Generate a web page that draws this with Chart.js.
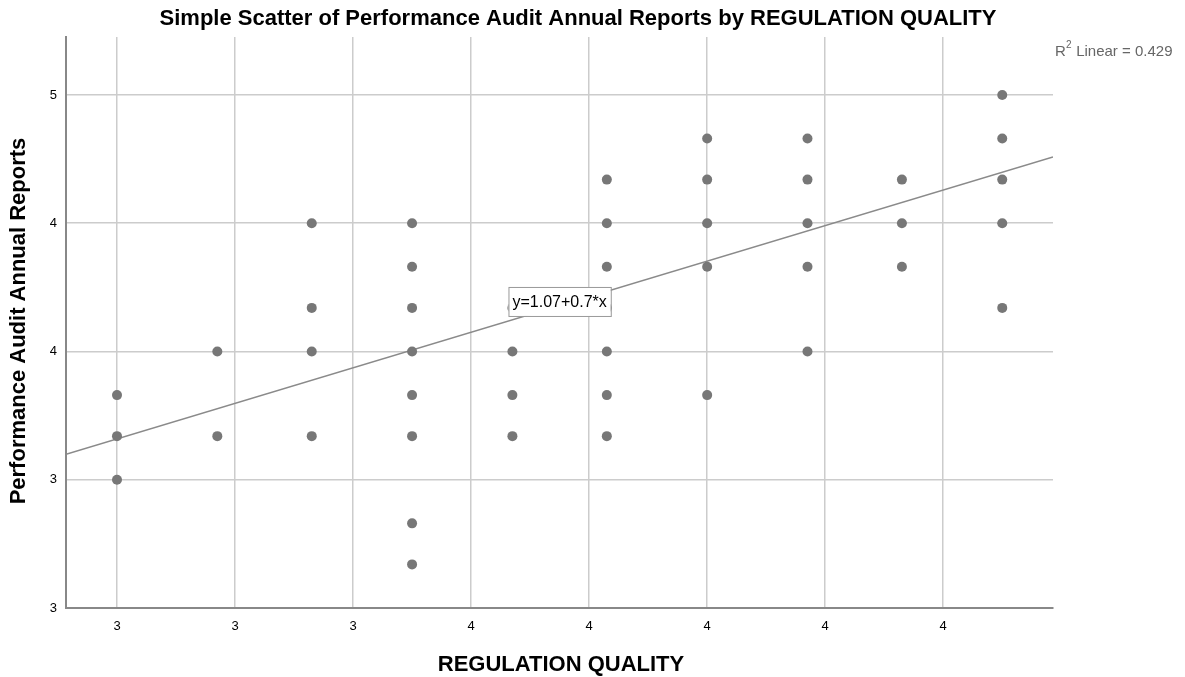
<!DOCTYPE html>
<html>
<head>
<meta charset="utf-8">
<script src="https://cdn.jsdelivr.net/npm/chart.js@4.4.1/dist/chart.umd.min.js"></script>
<style>
  body { margin: 0; background: #fff; }
  #wrap { width: 1185px; height: 677px; position: relative; }
</style>
</head>
<body>
<div id="wrap"><canvas id="scatter-chart" width="1185" height="677"></canvas></div>
<script>
// regulation quality levels (x) and the report scores seen in each column (y)
const xLevels = [3.00, 3.17, 3.33, 3.50, 3.67, 3.83, 4.00, 4.17, 4.33, 4.50];
const yByLevel = [
    [3.33, 3.17, 3.00],
    [3.50, 3.17],
    [4.00, 3.67, 3.50, 3.17],
    [4.00, 3.83, 3.67, 3.50, 3.33, 3.17, 2.83, 2.67],
    [3.67, 3.50, 3.33, 3.17],
    [4.17, 4.00, 3.83, 3.67, 3.50, 3.33, 3.17],
    [4.33, 4.17, 4.00, 3.83, 3.33],
    [4.33, 4.17, 4.00, 3.83, 3.50],
    [4.17, 4.00, 3.83],
    [4.50, 4.33, 4.17, 4.00, 3.67],
];

const xTicks = [3.0, 3.2, 3.4, 3.6, 3.8, 4.0, 4.2, 4.4];
const xTickLabels = ['3', '3', '3', '4', '4', '4', '4', '4'];
const yTicks = [2.5, 3.0, 3.5, 4.0, 4.5];
const yTickLabels = ['3', '3', '4', '4', '5'];

const fitIntercept = 1.08;
const fitSlope = 0.693;
const fitLabel = 'y=1.07+0.7*x';
const r2Label = '0.429';

const xRange = [2.9136, 4.586];
const yRange = [2.5, 4.726];

const points = [];
xLevels.forEach((x, i) => {
    yByLevel[i].forEach((y) => points.push({ x: x, y: y }));
});

const fitLine = xRange.map((x) => ({ x: x, y: fitIntercept + fitSlope * x }));

const FONT = '"Liberation Sans", Arial, sans-serif';

const textPlugin = {
    id: 'spssText',
    afterDraw(chart) {
        const ctx = chart.ctx;
        const xs = chart.scales.x;
        const ys = chart.scales.y;
        ctx.save();

        // title
        ctx.fillStyle = '#000';
        ctx.font = 'bold 22px ' + FONT;
        ctx.textAlign = 'center';
        ctx.textBaseline = 'middle';
        ctx.fillText('Simple Scatter of Performance Audit Annual Reports by REGULATION QUALITY', 578, 19);

        // axis titles
        ctx.font = 'bold 22px ' + FONT;
        ctx.fillText('REGULATION QUALITY', 561, 665);
        ctx.save();
        ctx.translate(19, 321);
        ctx.rotate(-Math.PI / 2);
        ctx.fillText('Performance Audit Annual Reports', 0, 0);
        ctx.restore();

        // R squared note
        ctx.fillStyle = '#666';
        ctx.textAlign = 'left';
        ctx.font = '15px ' + FONT;
        ctx.fillText('R', 1055, 52);
        ctx.font = '10px ' + FONT;
        ctx.fillText('2', 1066, 45);
        ctx.font = '15px ' + FONT;
        ctx.fillText(' Linear = ' + r2Label, 1072, 52);

        // equation box
        const cx = xs.getPixelForValue(3.75);
        const cy = ys.getPixelForValue(3.695);
        ctx.font = '16px ' + FONT;
        const w = ctx.measureText(fitLabel).width + 8;
        const h = 29;
        ctx.fillStyle = '#fff';
        ctx.fillRect(cx - w / 2, cy - h / 2, w, h);
        ctx.strokeStyle = '#999';
        ctx.lineWidth = 1;
        ctx.strokeRect(cx - w / 2 + 0.5, cy - h / 2 + 0.5, w, h);
        ctx.fillStyle = '#000';
        ctx.textAlign = 'center';
        ctx.fillText(fitLabel, cx, cy + 1);

        ctx.restore();
    },
};

const chartConfig = {
    type: 'scatter',
    data: {
        datasets: [
            {
                label: 'Performance Audit Annual Reports',
                data: points,
                backgroundColor: '#777777',
                borderWidth: 0,
                pointRadius: 5,
                order: 1,
            },
            {
                type: 'line',
                label: 'Fit',
                data: fitLine,
                borderColor: '#8a8a8a',
                borderWidth: 1.6,
                pointRadius: 0,
                fill: false,
                order: 2,
            },
        ],
    },
    options: {
        responsive: false,
        animation: false,
        layout: {
            padding: { top: 37, right: 132, bottom: 0, left: 0 },
        },
        plugins: {
            legend: { display: false },
            tooltip: { enabled: false },
        },
        scales: {
            x: {
                type: 'linear',
                min: xRange[0],
                max: xRange[1],
                afterBuildTicks: (scale) => {
                    scale.ticks = xTicks.map((v) => ({ value: v }));
                },
                afterFit: (scale) => { scale.height = 69; },
                ticks: {
                    callback: (value, index) => xTickLabels[index],
                    color: '#000',
                    padding: 11,
                    maxRotation: 0,
                    font: { family: FONT, size: 13 },
                },
                grid: { color: '#cccccc', lineWidth: 1.5, drawTicks: false },
                border: { color: '#888888', width: 2 },
            },
            y: {
                type: 'linear',
                min: yRange[0],
                max: yRange[1],
                afterBuildTicks: (scale) => {
                    scale.ticks = yTicks.map((v) => ({ value: v }));
                },
                afterFit: (scale) => { scale.width = 66; },
                ticks: {
                    callback: (value, index) => yTickLabels[index],
                    color: '#000',
                    padding: 9,
                    font: { family: FONT, size: 13 },
                },
                grid: { color: '#cccccc', lineWidth: 1.5, drawTicks: false },
                border: { color: '#888888', width: 2 },
            },
        },
    },
    plugins: [textPlugin],
};

const ctx = document.getElementById('scatter-chart').getContext('2d');
new Chart(ctx, chartConfig);
</script>
</body>
</html>
